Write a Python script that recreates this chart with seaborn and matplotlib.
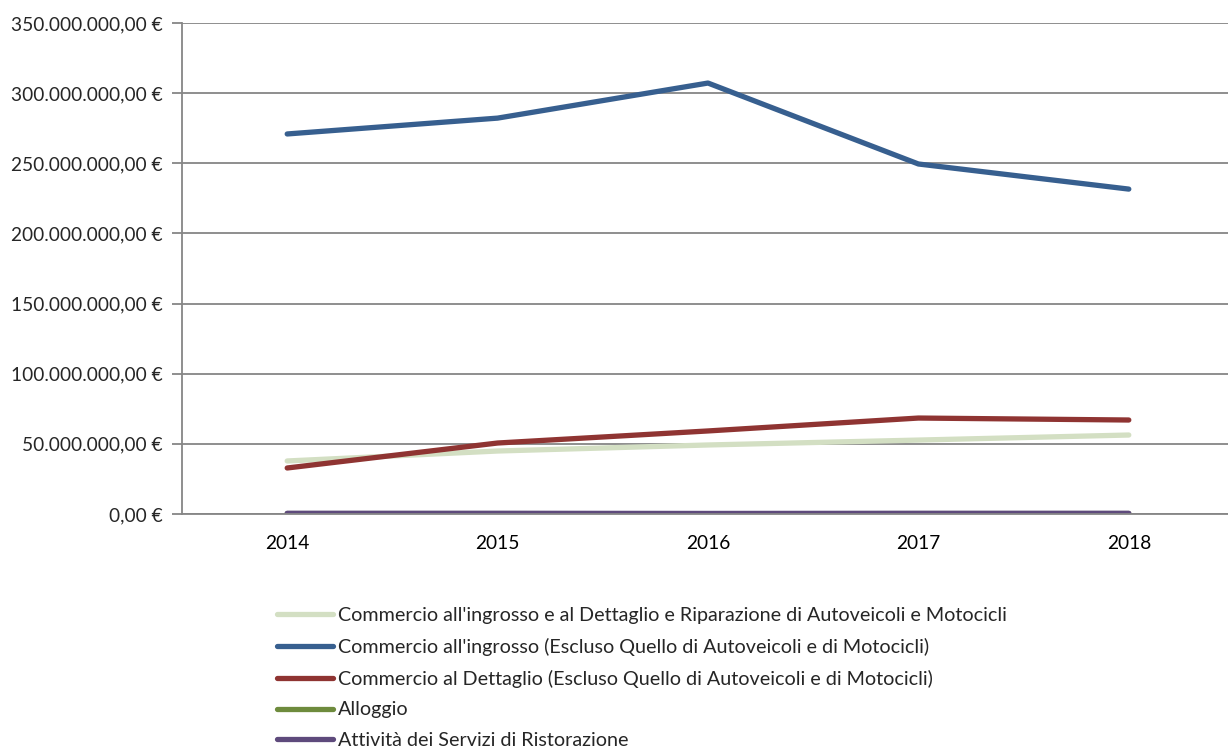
import matplotlib
matplotlib.use("Agg")
import matplotlib.pyplot as plt
import matplotlib.ticker as mticker
import pandas as pd
import seaborn as sns

years = [2014, 2015, 2016, 2017, 2018]
series_names = [
    "Commercio all'ingrosso e al Dettaglio e Riparazione di Autoveicoli e Motocicli",
    "Commercio all'ingrosso (Escluso Quello di Autoveicoli e di Motocicli)",
    "Commercio al Dettaglio (Escluso Quello di Autoveicoli e di Motocicli)",
    "Alloggio",
    "Attività dei Servizi di Ristorazione",
]
commercio_totale = [37.8e6, 44.9e6, 49.2e6, 52.7e6, 56.3e6]
commercio_ingrosso = [270.9e6, 282.2e6, 307.2e6, 249.5e6, 231.6e6]
commercio_dettaglio = [32.8e6, 50.6e6, 59.2e6, 68.4e6, 67.0e6]
alloggio = [0.3e6, 0.3e6, 0.2e6, 0.3e6, 0.3e6]
ristorazione = [0.5e6, 0.5e6, 0.4e6, 0.5e6, 0.5e6]
colors = ["#D3DFC3", "#375F8F", "#8F3432", "#6E8B3D", "#5E4A7C"]

values = [commercio_totale, commercio_ingrosso, commercio_dettaglio, alloggio, ristorazione]
rows = []
for name, vals in zip(series_names, values):
    for y, v in zip(years, vals):
        rows.append({"year": y, "value": v, "serie": name})
df = pd.DataFrame(rows)

sns.set_style("white")
plt.rcParams["font.family"] = ["Lato", "DejaVu Sans"]

fig = plt.figure(figsize=(12.28, 7.47), dpi=100)
ax = fig.add_axes([182 / 1228, 1 - 514 / 747, 1052 / 1228, 491 / 747])

sns.lineplot(data=df, x="year", y="value", hue="serie", hue_order=series_names,
             palette=dict(zip(series_names, colors)), linewidth=3.8, ax=ax,
             legend=False, solid_capstyle="round")

ax.set_ylim(0, 350e6)
ax.set_xlim(2013.5, 2018.5)
ax.yaxis.set_major_locator(mticker.MultipleLocator(50e6))


def euro(v, pos):
    s = f"{v:,.2f}".replace(",", "X").replace(".", ",").replace("X", ".")
    return s + " €"


ax.yaxis.set_major_formatter(mticker.FuncFormatter(euro))
ax.set_xticks(years)
ax.set_xticklabels([str(y) for y in years])
ax.set_xticks([2013.5 + i for i in range(6)], minor=True)
ax.tick_params(axis="x", which="major", length=0, pad=15, labelsize=13.8, colors="black")
ax.tick_params(axis="x", which="minor", length=7, width=1.3, color="#868686", direction="out")
ax.tick_params(axis="y", length=7, width=1.3, color="#868686", direction="out", pad=7,
               labelsize=13.8, left=True)
ax.grid(axis="y", color="#868686", linewidth=1.3)
ax.set_axisbelow(True)
for side in ["top", "right"]:
    ax.spines[side].set_visible(False)
for side in ["left", "bottom"]:
    ax.spines[side].set_color("#868686")
    ax.spines[side].set_linewidth(1.3)
ax.set_xlabel("")
ax.set_ylabel("")

handles = [plt.Line2D([], [], color=c, linewidth=3.8, solid_capstyle="round") for c in colors]
fig.legend(handles, series_names, loc="upper left", bbox_to_anchor=(269 / 1228, 1 - 599 / 747),
           frameon=False, fontsize=14.2, handlelength=2.85, handletextpad=0.25,
           labelspacing=0.70, borderaxespad=0)

fig.savefig("out.png", dpi=100)
